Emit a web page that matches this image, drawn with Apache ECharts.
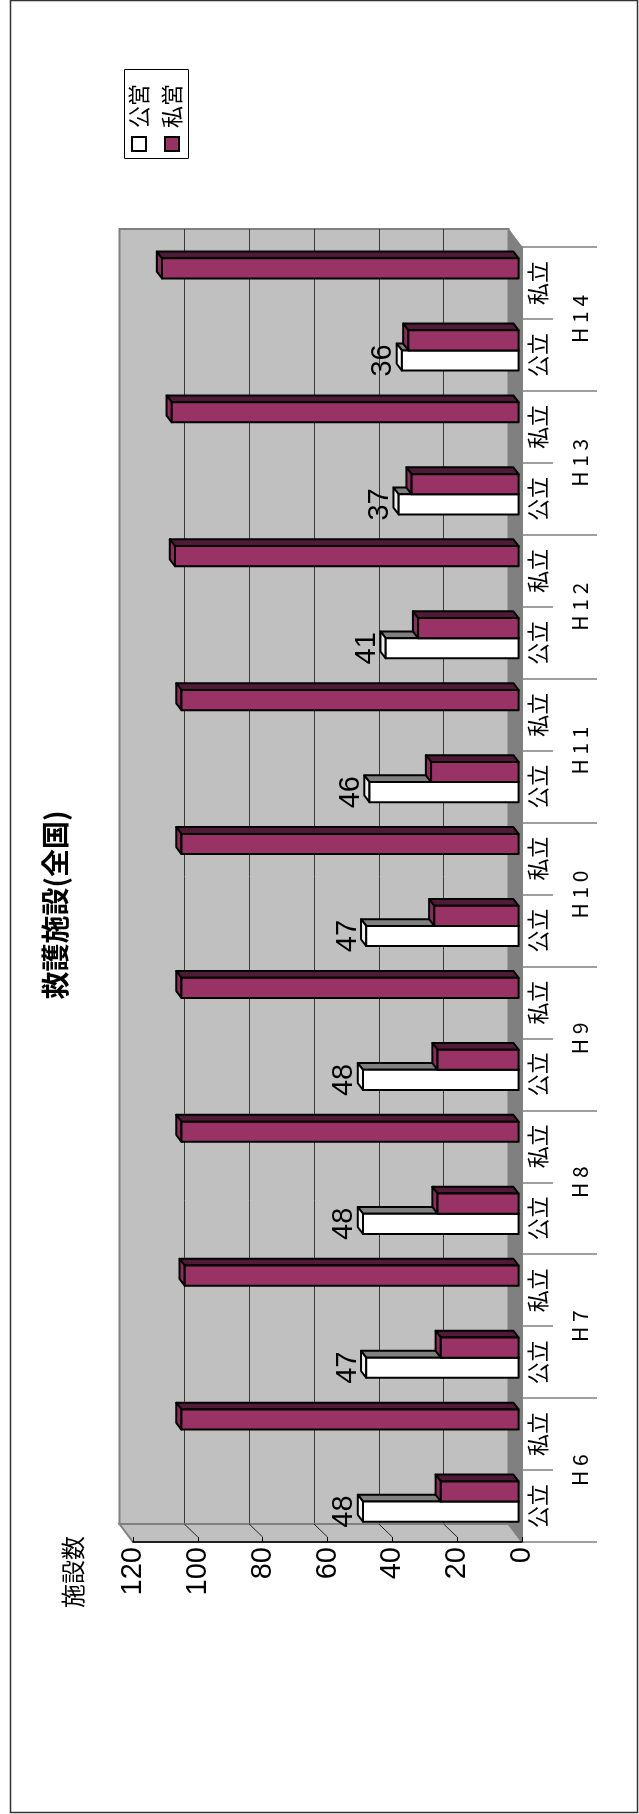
<!DOCTYPE html>
<html>
<head>
<meta charset="utf-8">
<script src="https://cdn.jsdelivr.net/npm/echarts@6/dist/echarts.min.js"></script>
<style>
  html, body { margin: 0; padding: 0; background: #fff; }
  #chart { width: 639px; height: 1814px; }
</style>
</head>
<body>
<div id="chart"></div>
<script>
// data
var years = ["H 6", "H 7", "H 8", "H 9", "H 1 0", "H 1 1", "H 1 2", "H 1 3", "H 1 4"];
var subNames = ["公立", "私立"];
var koueiKouritsu = [48, 47, 48, 48, 47, 46, 41, 37, 36];          // 公立・公営
var shieiKouritsu = [24, 24, 25, 25, 26, 27, 31, 33, 34];          // 公立・私営
var shieiShiritsu = [104, 103, 104, 104, 104, 104, 106, 107, 110]; // 私立・私営
var valueMin = 0, valueMax = 120, valueStep = 20;

var subCategories = [];
years.forEach(function () { subCategories.push(subNames[0], subNames[1]); });

// layout of the fake 3d box
var FRONT = { left: 133, top: 247, width: 389, height: 1295 };
var WALL_DX = -13.5, WALL_DY = -18;
var BACK = { left: FRONT.left + WALL_DX, top: FRONT.top + WALL_DY, width: FRONT.width, height: FRONT.height };
var SX = -3.4, SY = -4.5;   // front face shift into the box
var DX = -5.2, DY = -6.8;   // bar depth

var CJK = '"Noto Sans CJK JP", sans-serif';
var LAT = '"Liberation Sans", Arial, sans-serif';

var koueiData = koueiKouritsu.map(function (v, i) { return [v, i * 2]; });
var shieiData = [];
years.forEach(function (y, i) {
  shieiData.push([shieiKouritsu[i], i * 2]);
  shieiData.push([shieiShiritsu[i], i * 2 + 1]);
});

function makeBar(slot, col, withLabel) {
  return function (params, api) {
    var v = api.value(0);
    var idx = api.value(1);
    var band = api.size([0, 1])[1];
    var h = band * 0.28;
    var base = api.coord([0, idx]);
    var end = api.coord([v, idx]);
    var y = base[1] + (slot === "upper" ? -h : 0) + SY;
    var x0 = end[0] + SX, x1 = base[0] + SX;
    var st = { stroke: "#000", lineWidth: 2, lineJoin: "round" };
    var kids = [
      { type: "polygon", shape: { points: [[x0, y], [x1, y], [x1 + DX, y + DY], [x0 + DX, y + DY]] },
        style: Object.assign({ fill: col.top }, st) },
      { type: "polygon", shape: { points: [[x0, y], [x0, y + h], [x0 + DX, y + h + DY], [x0 + DX, y + DY]] },
        style: Object.assign({ fill: col.cap }, st) },
      { type: "rect", shape: { x: x0, y: y, width: x1 - x0, height: h },
        style: Object.assign({ fill: col.face }, st) }
    ];
    if (withLabel) {
      kids.push({
        type: "text", x: x0 + DX + 1, y: y + h / 2, rotation: Math.PI / 2,
        style: { text: String(v), align: "center", verticalAlign: "bottom",
                 font: "29px " + LAT, fill: "#000" }
      });
    }
    return { type: "group", children: kids };
  };
}

var chart = echarts.init(document.getElementById("chart"), null, { renderer: "canvas" });

var option = {
  backgroundColor: "#fff",
  animation: false,
  grid: [
    { left: FRONT.left, top: FRONT.top, width: FRONT.width, height: FRONT.height,
      outerBoundsMode: "none", show: false },
    { left: BACK.left, top: BACK.top, width: BACK.width, height: BACK.height,
      outerBoundsMode: "none", show: true, backgroundColor: "#c0c0c0",
      borderColor: "#808080", borderWidth: 2, z: 0 }
  ],
  xAxis: [
    {
      gridIndex: 0, type: "value", min: valueMin, max: valueMax, interval: valueStep,
      inverse: true, position: "bottom", z: 5,
      axisLine: { show: true, onZero: false, lineStyle: { color: "#000", width: 1.5 } },
      axisTick: { show: true, inside: true, length: 5, lineStyle: { color: "#000", width: 1 } },
      axisLabel: { rotate: 90, margin: 5, fontSize: 29, fontFamily: LAT, color: "#000" },
      splitLine: { show: false }
    },
    {
      gridIndex: 1, type: "value", min: valueMin, max: valueMax, interval: valueStep,
      inverse: true, z: 0,
      axisLine: { show: false }, axisTick: { show: false }, axisLabel: { show: false },
      splitLine: { show: true, showMinLine: false, showMaxLine: false,
                   lineStyle: { color: "#3a3a3a", width: 1 } }
    }
  ],
  yAxis: [
    {
      gridIndex: 0, type: "category", data: subCategories, position: "right", z: 5,
      axisLine: { show: true, lineStyle: { color: "#808080", width: 2 } },
      axisTick: { show: true, length: 31, interval: 0, lineStyle: { color: "#808080", width: 1.5 } },
      axisLabel: { rotate: 90, interval: 0, margin: 5, fontSize: 22, fontFamily: CJK, color: "#000" }
    },
    {
      gridIndex: 0, type: "category", data: years, position: "right", z: 5,
      axisLine: { show: false },
      axisTick: { show: true, length: 75, interval: 0, lineStyle: { color: "#808080", width: 1.5 } },
      axisLabel: { rotate: 90, interval: 0, margin: 48, fontSize: 21, fontFamily: CJK, color: "#000" }
    },
    {
      gridIndex: 1, type: "category", data: subCategories, show: false
    }
  ],
  series: [
    {
      name: "公営", type: "custom", xAxisIndex: 0, yAxisIndex: 0, z: 3,
      renderItem: makeBar("lower", { face: "#ffffff", top: "#808080", cap: "#f0f0f0" }, true),
      data: koueiData
    },
    {
      name: "私営", type: "custom", xAxisIndex: 0, yAxisIndex: 0, z: 4,
      renderItem: makeBar("upper", { face: "#993366", top: "#4f1b36", cap: "#8c2e5d" }, false),
      data: shieiData
    }
  ]
};
chart.setOption(option);

// walls, floor and legend/titles, placed from the axes' own scales
var xf = function (v) { return chart.convertToPixel({ xAxisIndex: 0 }, v); };
var xb = function (v) { return chart.convertToPixel({ xAxisIndex: 1 }, v); };
var fB = FRONT.top + FRONT.height, bB = BACK.top + BACK.height;
var fR = xf(valueMin), bR = xb(valueMin), fL = xf(valueMax), bL = xb(valueMax);

var deco = [
  { type: "polygon", z: 1, shape: { points: [[bR, BACK.top], [fR, FRONT.top], [fR, fB], [bR, bB]] },
    style: { fill: "#808080", stroke: "#808080", lineWidth: 1 } },
  { type: "polygon", z: 1, shape: { points: [[bL, bB], [bR, bB], [fR, fB], [fL, fB]] },
    style: { fill: "#c0c0c0", stroke: "#808080", lineWidth: 2 } }
];
for (var v = valueMin + valueStep; v < valueMax; v += valueStep) {
  deco.push({ type: "line", z: 2, shape: { x1: xb(v), y1: bB, x2: xf(v), y2: fB - 5 },
              style: { stroke: "#222", lineWidth: 1 } });
}
// outer frame
deco.push({ type: "rect", z: 0, shape: { x: 10.5, y: 0.5, width: 627, height: 1812 },
            style: { fill: null, stroke: "#333", lineWidth: 1.5 } });
// title and axis name
deco.push({ type: "text", z: 10, x: 55, y: 905, rotation: Math.PI / 2,
            style: { text: "救護施設(全国)", align: "center", verticalAlign: "middle",
                     font: "bold 28px " + CJK, fill: "#000" } });
deco.push({ type: "text", z: 10, x: 73, y: 1572, rotation: Math.PI / 2,
            style: { text: "施設数", align: "center", verticalAlign: "middle",
                     font: "24px " + CJK, fill: "#000" } });
// legend
deco.push({ type: "rect", z: 10, shape: { x: 124.5, y: 69.5, width: 64, height: 89 },
            style: { fill: "#fff", stroke: "#000", lineWidth: 1 } });
var legendItems = [
  { name: "公営", fill: "#ffffff", cx: 139 },
  { name: "私営", fill: "#993366", cx: 172 }
];
legendItems.forEach(function (it) {
  deco.push({ type: "rect", z: 11, shape: { x: it.cx - 7, y: 137, width: 14, height: 14 },
              style: { fill: it.fill, stroke: "#000", lineWidth: 2 } });
  deco.push({ type: "text", z: 11, x: it.cx, y: 106, rotation: Math.PI / 2,
              style: { text: it.name, align: "center", verticalAlign: "middle",
                       font: "22px " + CJK, fill: "#000" } });
});

chart.setOption({ graphic: { elements: deco } });
</script>
</body>
</html>
